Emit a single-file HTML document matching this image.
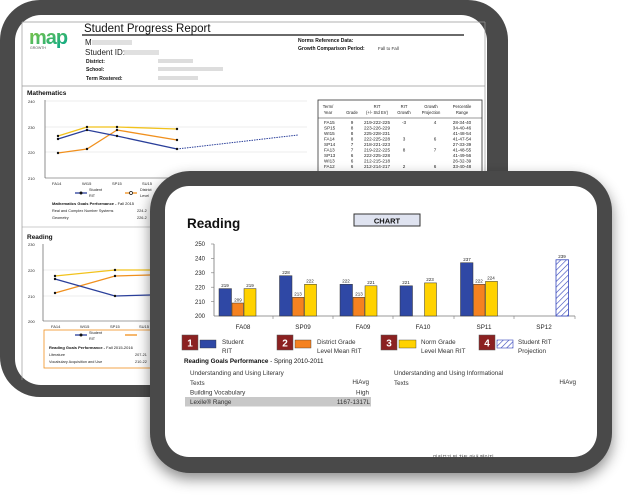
<!DOCTYPE html>
<html><head><meta charset="utf-8"><style>
html,body{margin:0;padding:0;background:#fff;width:632px;height:497px;overflow:hidden}
svg{display:block}
text{font-family:"Liberation Sans",Arial,sans-serif}
</style></head><body>
<svg width="632" height="497" viewBox="0 0 632 497" xmlns="http://www.w3.org/2000/svg">
<defs>
<filter id="sh" x="-10%" y="-10%" width="120%" height="130%"><feDropShadow dx="0" dy="6" stdDeviation="7" flood-color="#000" flood-opacity="0.45"/></filter>
<linearGradient id="mapg" x1="0" y1="0" x2="1" y2="1"><stop offset="0" stop-color="#8cc63f"/><stop offset="1" stop-color="#00a88f"/></linearGradient>
<pattern id="hatch" width="4" height="4" patternUnits="userSpaceOnUse" patternTransform="rotate(45)"><rect width="4" height="4" fill="#fff"/><line x1="0" y1="0" x2="0" y2="4" stroke="#3344bb" stroke-width="1.2"/></pattern>
</defs>

<!-- back card -->
<rect x="0" y="0" width="508" height="397" rx="40" fill="#4a4a4a"/>
<rect x="15" y="15" width="472" height="370" rx="26" fill="#fff"/>
<line x1="22" y1="22" x2="485" y2="22" stroke="#999" stroke-width="0.7"/>
<line x1="22" y1="22" x2="22" y2="380" stroke="#999" stroke-width="0.7"/>
<line x1="485" y1="22" x2="485" y2="380" stroke="#999" stroke-width="0.7"/>
<text x="29" y="44" font-size="20" font-weight="bold" fill="url(#mapg)" letter-spacing="-1">map</text>
<text x="30" y="49" font-size="3.5" fill="#555">GROWTH</text>
<text x="84" y="32" font-size="11.5" fill="#111">Student Progress Report</text>
<line x1="82" y1="35" x2="464" y2="35" stroke="#111" stroke-width="1.2"/>
<text x="85" y="45" font-size="8" fill="#222">M</text><rect x="92" y="40" width="40" height="5" fill="#ccc" opacity=".6"/>
<text x="85" y="55" font-size="8" fill="#222">Student ID:</text><rect x="124" y="50" width="35" height="5" fill="#ccc" opacity=".6"/>
<g font-size="5" font-weight="bold" fill="#111">
<text x="86" y="63">District:</text><text x="86" y="71">School:</text><text x="86" y="80">Term Rostered:</text>
<text x="298" y="42">Norms Reference Data:</text><text x="298" y="50">Growth Comparison Period:</text></g>
<text x="378" y="50" font-size="4.5" fill="#333">Fall to Fall</text>
<rect x="158" y="59" width="35" height="4" fill="#ddd"/><rect x="158" y="67" width="65" height="4" fill="#ddd"/><rect x="158" y="76" width="40" height="4" fill="#ddd"/>
<line x1="22" y1="86" x2="485" y2="86" stroke="#999" stroke-width="0.7"/>
<text x="27" y="95" font-size="6.5" font-weight="bold" fill="#111">Mathematics</text>
<g font-size="4" fill="#222"><text x="28" y="103">240</text><text x="28" y="129">230</text><text x="28" y="154">220</text><text x="28" y="180">210</text>
<text x="52" y="185">FA14</text><text x="82" y="185">WI15</text><text x="112" y="185">SP15</text><text x="142" y="185">SU15</text></g>
<g stroke="#ddd" stroke-width="0.6"><line x1="45" y1="101" x2="307" y2="101"/><line x1="45" y1="127" x2="307" y2="127"/><line x1="45" y1="152" x2="307" y2="152"/></g>
<line x1="45" y1="100" x2="45" y2="178" stroke="#444" stroke-width="0.6"/><line x1="45" y1="178" x2="307" y2="178" stroke="#444" stroke-width="0.6"/>
<polyline points="58,136 87,127 117,127 177,129" fill="none" stroke="#f2c21b" stroke-width="1.3"/>
<polyline points="58,153 87,149 117,130 177,140" fill="none" stroke="#f0901e" stroke-width="1.3"/>
<polyline points="58,139 87,130 117,136 177,149" fill="none" stroke="#2a3f9a" stroke-width="1.3"/>
<line x1="177" y1="149" x2="298" y2="135" stroke="#2a3f9a" stroke-width="1" stroke-dasharray="1.5 1"/>
<g fill="#111"><circle cx="58" cy="136" r="1.2"/><circle cx="87" cy="127" r="1.2"/><circle cx="117" cy="127" r="1.2"/><circle cx="177" cy="129" r="1.2"/><circle cx="58" cy="153" r="1.2"/><circle cx="87" cy="149" r="1.2"/><circle cx="117" cy="130" r="1.2"/><circle cx="177" cy="140" r="1.2"/><circle cx="58" cy="139" r="1.2"/><circle cx="87" cy="130" r="1.2"/><circle cx="117" cy="136" r="1.2"/><circle cx="177" cy="149" r="1.2"/></g>
<line x1="75" y1="193" x2="87" y2="193" stroke="#2a3f9a" stroke-width="1.3"/><circle cx="81" cy="193" r="1.5" fill="#111"/>
<line x1="125" y1="193" x2="137" y2="193" stroke="#f0901e" stroke-width="1.3"/><circle cx="131" cy="193" r="1.5" fill="#fff" stroke="#111" stroke-width=".7"/>
<g font-size="3.8" fill="#222"><text x="89" y="191">Student</text><text x="89" y="197">RIT</text><text x="140" y="191">District</text><text x="140" y="197">Level</text>
<text x="52" y="212">Real and Complex Number Systems</text><text x="137" y="212">224-2</text><text x="52" y="219">Geometry</text><text x="137" y="219">226-2</text></g>
<text x="52" y="205" font-size="4" font-weight="bold" fill="#111">Mathematics Goals Performance - <tspan font-weight="normal">Fall 2015</tspan></text>
<line x1="22" y1="227" x2="150" y2="227" stroke="#999" stroke-width="0.6"/>
<text x="27" y="239" font-size="6.5" font-weight="bold" fill="#111">Reading</text>
<g font-size="4" fill="#222"><text x="28" y="246">230</text><text x="28" y="272">220</text><text x="28" y="298">210</text><text x="28" y="323">200</text>
<text x="51" y="328">FA14</text><text x="80" y="328">WI15</text><text x="110" y="328">SP15</text><text x="139" y="328">SU15</text></g>
<g stroke="#ddd" stroke-width="0.6"><line x1="43" y1="270" x2="150" y2="270"/><line x1="43" y1="296" x2="150" y2="296"/></g>
<line x1="43" y1="244" x2="43" y2="321" stroke="#444" stroke-width="0.6"/><line x1="43" y1="321" x2="150" y2="321" stroke="#444" stroke-width="0.6"/>
<polyline points="55,276 115,270 150,270" fill="none" stroke="#f2c21b" stroke-width="1.3"/>
<polyline points="55,293 115,276 150,275" fill="none" stroke="#f0901e" stroke-width="1.3"/>
<polyline points="55,279 115,296 150,295" fill="none" stroke="#2a3f9a" stroke-width="1.3"/>
<g fill="#111"><circle cx="55" cy="276" r="1.2"/><circle cx="55" cy="279" r="1.2"/><circle cx="55" cy="293" r="1.2"/><circle cx="115" cy="270" r="1.2"/><circle cx="115" cy="276" r="1.2"/><circle cx="115" cy="296" r="1.2"/></g>
<rect x="44" y="330" width="110" height="38" fill="none" stroke="#f0901e" stroke-width="0.8"/>
<line x1="75" y1="335" x2="87" y2="335" stroke="#2a3f9a" stroke-width="1.3"/><circle cx="81" cy="335" r="1.5" fill="#111"/>
<line x1="125" y1="335" x2="137" y2="335" stroke="#f0901e" stroke-width="1.3"/>
<g font-size="3.8" fill="#222"><text x="89" y="334">Student</text><text x="89" y="340">RIT</text><text x="49" y="356">Literature</text><text x="135" y="356">207-21</text><text x="49" y="363">Vocabulary Acquisition and Use</text><text x="135" y="363">210-22</text></g>
<text x="49" y="349" font-size="4" font-weight="bold" fill="#111">Reading Goals Performance - <tspan font-weight="normal">Fall 2015-2016</tspan></text>
<!-- table -->
<rect x="318" y="100" width="164" height="80" fill="#fff" stroke="#333" stroke-width="0.8"/>
<line x1="318" y1="118" x2="482" y2="118" stroke="#333" stroke-width="0.6"/>
<g font-size="4.2" fill="#222" text-anchor="middle">
<text x="328" y="108">Term/</text><text x="328" y="114">Year</text><text x="352" y="114">Grade</text><text x="377" y="108">RIT</text><text x="377" y="114">(+/- Std Err)</text>
<text x="404" y="108">RIT</text><text x="404" y="114">Growth</text><text x="431" y="108">Growth</text><text x="431" y="114">Projection</text><text x="462" y="108">Percentile</text><text x="462" y="114">Range</text>
</g>
<g font-size="4.6" fill="#222">
<text x="324" y="124">FA15</text><text x="324" y="129.5">SP15</text><text x="324" y="135">WI15</text><text x="324" y="140.5">FA14</text><text x="324" y="146">SP14</text><text x="324" y="151.5">FA13</text><text x="324" y="157">SP13</text><text x="324" y="162.5">WI13</text><text x="324" y="168">FA12</text>
</g>
<g font-size="4.6" fill="#222" text-anchor="middle">
<text x="352" y="124">9</text><text x="352" y="129.5">8</text><text x="352" y="135">8</text><text x="352" y="140.5">8</text><text x="352" y="146">7</text><text x="352" y="151.5">7</text><text x="352" y="157">6</text><text x="352" y="162.5">6</text><text x="352" y="168">6</text>
<text x="377" y="124">219-222-225</text><text x="377" y="129.5">223-226-229</text><text x="377" y="135">225-228-231</text><text x="377" y="140.5">222-225-228</text><text x="377" y="146">218-221-223</text><text x="377" y="151.5">219-222-225</text><text x="377" y="157">222-225-228</text><text x="377" y="162.5">212-215-218</text><text x="377" y="168">212-214-217</text>
<text x="404" y="124">-3</text><text x="404" y="140.5">3</text><text x="404" y="151.5">8</text><text x="404" y="168">2</text>
<text x="435" y="124">4</text><text x="435" y="140.5">6</text><text x="435" y="151.5">7</text><text x="435" y="168">6</text>
<text x="462" y="124">28-34-40</text><text x="462" y="129.5">34-40-46</text><text x="462" y="135">41-48-54</text><text x="462" y="140.5">41-47-54</text><text x="462" y="146">27-33-39</text><text x="462" y="151.5">41-48-55</text><text x="462" y="157">41-49-56</text><text x="462" y="162.5">26-32-39</text><text x="462" y="168">33-40-48</text>
</g>

<!-- front card -->
<g filter="url(#sh)"><rect x="150" y="171" width="462" height="302" rx="40" fill="#4a4a4a"/></g>
<rect x="165" y="186" width="432" height="271" rx="24" fill="#fff"/>
<text x="187" y="228" font-size="13.5" font-weight="bold" fill="#111">Reading</text>
<rect x="354" y="214" width="66" height="12" fill="#dfe3f0" stroke="#333" stroke-width="1"/>
<text x="387" y="223.5" font-size="7.5" font-weight="bold" fill="#111" text-anchor="middle">CHART</text>
<g font-size="6" fill="#222" text-anchor="end">
<text x="205" y="246">250</text><text x="205" y="260.5">240</text><text x="205" y="275">230</text><text x="205" y="289.5">220</text><text x="205" y="304">210</text><text x="205" y="318">200</text></g>
<line x1="214" y1="244" x2="214" y2="316" stroke="#777" stroke-width="0.8"/>
<line x1="214" y1="316" x2="575" y2="316" stroke="#777" stroke-width="0.8"/>
<g stroke="#777" stroke-width="0.6"><line x1="211" y1="244" x2="214" y2="244"/><line x1="211" y1="258.4" x2="214" y2="258.4"/><line x1="211" y1="272.8" x2="214" y2="272.8"/><line x1="211" y1="287.2" x2="214" y2="287.2"/><line x1="211" y1="301.6" x2="214" y2="301.6"/>
<line x1="273" y1="316" x2="273" y2="319"/><line x1="333" y1="316" x2="333" y2="319"/><line x1="393" y1="316" x2="393" y2="319"/><line x1="454" y1="316" x2="454" y2="319"/><line x1="514" y1="316" x2="514" y2="319"/><line x1="575" y1="316" x2="575" y2="319"/></g>
<g stroke="#333" stroke-width="0.5">
<rect x="219" y="288.6" width="12.5" height="27.4" fill="#2f48a5"/><rect x="232" y="303" width="11.5" height="13" fill="#f58220"/><rect x="244" y="288.6" width="12" height="27.4" fill="#ffd200"/>
<rect x="279.5" y="275.7" width="12.5" height="40.3" fill="#2f48a5"/><rect x="292.5" y="297.3" width="11.5" height="18.7" fill="#f58220"/><rect x="304.5" y="284.3" width="12" height="31.7" fill="#ffd200"/>
<rect x="340" y="284.3" width="12.5" height="31.7" fill="#2f48a5"/><rect x="353" y="297.3" width="11.5" height="18.7" fill="#f58220"/><rect x="365" y="285.8" width="12" height="30.2" fill="#ffd200"/>
<rect x="400" y="285.8" width="12.5" height="30.2" fill="#2f48a5"/><rect x="424.5" y="282.9" width="12" height="33.1" fill="#ffd200"/>
<rect x="460.5" y="262.7" width="12.5" height="53.3" fill="#2f48a5"/><rect x="473.5" y="284.3" width="11.5" height="31.7" fill="#f58220"/><rect x="485.5" y="281.4" width="12" height="34.6" fill="#ffd200"/>
</g>
<rect x="556" y="259.8" width="12.5" height="56.2" fill="url(#hatch)" stroke="#3344bb" stroke-width="0.8"/>
<g font-size="4.5" fill="#222" text-anchor="middle">
<text x="225" y="287">219</text><text x="238" y="301.5">209</text><text x="250" y="287">219</text>
<text x="286" y="274">228</text><text x="298" y="295.5">213</text><text x="310" y="282.5">222</text>
<text x="346" y="282.5">222</text><text x="359" y="295.5">213</text><text x="371" y="284">221</text>
<text x="406" y="284">221</text><text x="430" y="281">223</text>
<text x="467" y="261">237</text><text x="479" y="282.5">222</text><text x="491" y="279.5">224</text>
<text x="562" y="258">239</text></g>
<g font-size="6.3" fill="#222" text-anchor="middle">
<text x="243" y="329">FA08</text><text x="303" y="329">SP09</text><text x="363" y="329">FA09</text><text x="423" y="329">FA10</text><text x="484" y="329">SP11</text><text x="544" y="329">SP12</text></g>
<!-- legend -->
<g fill="#8b2121" stroke="#555" stroke-width="0.5"><rect x="182" y="335" width="16" height="15"/><rect x="277" y="335" width="16" height="15"/><rect x="381" y="335" width="16" height="15"/><rect x="479" y="335" width="16" height="15"/></g>
<g font-size="10" font-weight="bold" fill="#fff" text-anchor="middle"><text x="190" y="346.5">1</text><text x="285" y="346.5">2</text><text x="389" y="346.5">3</text><text x="487" y="346.5">4</text></g>
<rect x="200" y="340" width="16" height="8" fill="#2f48a5" stroke="#333" stroke-width=".4"/>
<rect x="295" y="340" width="16" height="8" fill="#f58220" stroke="#333" stroke-width=".4"/>
<rect x="399" y="340" width="17" height="8" fill="#ffd200" stroke="#333" stroke-width=".4"/>
<rect x="497" y="340" width="16" height="8" fill="url(#hatch)" stroke="#3344bb" stroke-width=".6"/>
<g font-size="6.3" fill="#333">
<text x="222" y="344">Student</text><text x="222" y="353">RIT</text>
<text x="317" y="344">District Grade</text><text x="317" y="353">Level Mean RIT</text>
<text x="421" y="344">Norm Grade</text><text x="421" y="353">Level Mean RIT</text>
<text x="518" y="344">Student RIT</text><text x="518" y="353">Projection</text></g>
<text x="184" y="363" font-size="6.3" font-weight="bold" fill="#111">Reading Goals Performance <tspan font-weight="normal">- Spring 2010-2011</tspan></text>
<rect x="185" y="397" width="186" height="9.5" fill="#c8c8c8"/>
<g font-size="6.3" fill="#333">
<text x="190" y="375">Understanding and Using Literary</text><text x="190" y="385">Texts</text><text x="190" y="394.5">Building Vocabulary</text><text x="190" y="404">Lexile® Range</text>
<text x="394" y="375">Understanding and Using Informational</text><text x="394" y="385">Texts</text></g>
<g font-size="6.3" fill="#333" text-anchor="end"><text x="369" y="384">HiAvg</text><text x="369" y="394.5">High</text><text x="370" y="404">1167-1317L</text><text x="576" y="384">HiAvg</text></g>
<text x="433" y="459" font-size="5" fill="#444">미리보기 및 차트 안내 페이지</text>
</svg>
</body></html>
